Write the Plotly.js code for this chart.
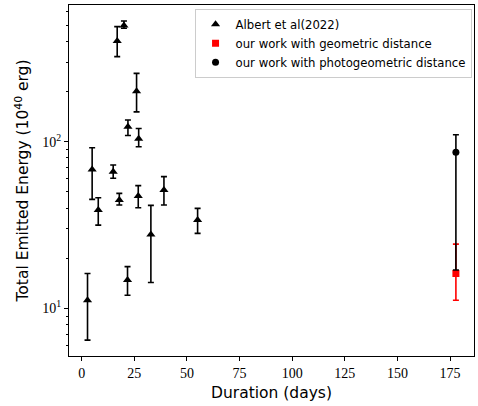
<!DOCTYPE html>
<html>
<head>
<meta charset="utf-8">
<script src="https://cdn.plot.ly/plotly-3.0.1.min.js"></script>
<style>html,body{margin:0;padding:0;background:#fff;}#chart{width:478px;height:406px;}</style>
</head>
<body>
<div id="chart"></div>
<script>
// Albert et al (2022)
const albertDuration = [2.8, 5.0, 7.9, 15.0, 16.9, 17.9, 20.1, 21.8, 22.0, 26.1, 26.9, 27.1, 32.9, 39.1, 55.1];
const albertEnergy   = [11.2, 68.2, 38.9, 66.1, 402, 44.7, 497, 14.8, 123, 201, 47.2, 104, 27.8, 51.3, 33.9];
const albertErrUp    = [16.2, 92.0, 46.1, 72.5, 490, 49.0, 530, 17.8, 135, 257, 54.5, 120, 41.5, 61.7, 39.8];
const albertErrLow   = [6.45, 45.1, 31.6, 60.3, 324, 41.7, 479, 12.0, 109, 151, 40.2, 93.3, 14.3, 41.7, 28.2];

// our work, geometric distance
const geoDuration = [177.8];
const geoEnergy   = [16.2];
const geoErrUp    = [24.3];
const geoErrLow   = [11.2];

// our work, photogeometric distance
const photoDuration = [177.8];
const photoEnergy   = [86.4];
const photoErrUp    = [110];
const photoErrLow   = [17.0];

const seriesNames = ['Albert et al(2022)', 'our work with geometric distance', 'our work with photogeometric distance'];

const xTicks = [0, 25, 50, 75, 100, 125, 150, 175];
const yTicks = [10, 100];
const yTickText = ['10<sup>1</sup>', '10<sup>2</sup>'];
const yMinor = [6, 7, 8, 9, 20, 30, 40, 50, 60, 70, 80, 90, 200, 300, 400, 500, 600];

function plus(v, up) { return v.map((d, i) => up[i] - d); }
function minus(v, lo) { return v.map((d, i) => d - lo[i]); }

function errTrace(name, x, y, up, lo, color, symbol, size) {
  return {
    type: 'scatter', mode: 'markers', name: name, x: x, y: y, showlegend: false,
    marker: {color: color, symbol: symbol, size: size, line: {width: 0}},
    error_y: {type: 'data', symmetric: false, array: plus(y, up), arrayminus: minus(y, lo),
              color: color, thickness: 1.6, width: 3}
  };
}
function legendTrace(name, color, symbol, size) {
  return {type: 'scatter', mode: 'markers', name: name, x: [null], y: [null],
          marker: {color: color, symbol: symbol, size: size, line: {width: 0}}};
}

const traces = [
  errTrace(seriesNames[0], albertDuration, albertEnergy, albertErrUp, albertErrLow, '#000000', 'triangle-up', 8),
  errTrace(seriesNames[1], geoDuration, geoEnergy, geoErrUp, geoErrLow, '#ff0000', 'square', 7),
  errTrace(seriesNames[2], photoDuration, photoEnergy, photoErrUp, photoErrLow, '#000000', 'circle', 7),
  legendTrace(seriesNames[0], '#000000', 'triangle-up', 8),
  legendTrace(seriesNames[1], '#ff0000', 'square', 7),
  legendTrace(seriesNames[2], '#000000', 'circle', 7)
];

const tickFont = {family: 'Liberation Serif', size: 14, color: '#000'};
const titleFont = {family: 'DejaVu Sans', size: 15.5, color: '#000'};

const layout = {
  width: 478, height: 406,
  margin: {l: 69, r: 4, t: 5, b: 50, pad: 0},
  paper_bgcolor: '#fff', plot_bgcolor: '#fff',
  showlegend: true,
  legend: {x: 0.31, y: 0.989, xanchor: 'left', yanchor: 'top', traceorder: 'normal',
           bordercolor: '#cccccc', borderwidth: 1, bgcolor: 'rgba(255,255,255,0.8)',
           font: {family: 'DejaVu Sans', size: 11.7, color: '#000'},
           tracegroupgap: 0},
  xaxis: {range: [-6.0, 186.4], tickvals: xTicks, ticks: 'outside', ticklen: 4, tickcolor: '#000',
          showgrid: false, zeroline: false, showline: true, mirror: true, linecolor: '#000', linewidth: 1,
          tickfont: tickFont, title: {text: 'Duration (days)', font: titleFont, standoff: 7}},
  yaxis: {type: 'log', range: [0.7145, 2.820], tickvals: yTicks, ticktext: yTickText,
          ticks: 'outside', ticklen: 4, tickcolor: '#000',
          minor: {tickvals: yMinor, ticks: 'outside', ticklen: 2, tickcolor: '#000', showgrid: false},
          showgrid: false, zeroline: false, showline: true, mirror: true, linecolor: '#000', linewidth: 1,
          tickfont: tickFont, title: {text: 'Total Emitted Energy (10<sup>40</sup> erg)', font: titleFont, standoff: 9}}
};

Plotly.newPlot('chart', traces, layout, {displayModeBar: false, staticPlot: true});
</script>
</body>
</html>
